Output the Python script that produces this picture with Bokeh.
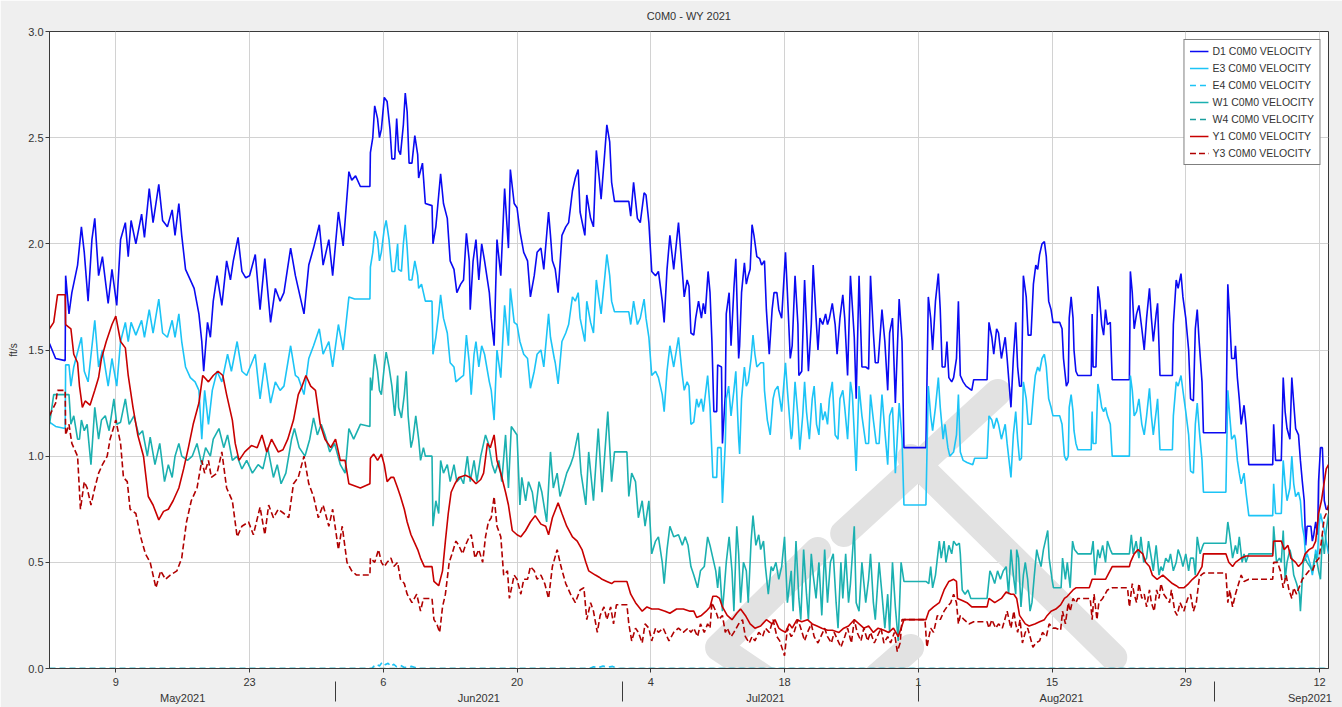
import numpy as np
import pandas as pd
from bokeh.plotting import figure
from bokeh.models import (FixedTicker, LinearAxis, CustomJSTickFormatter, Legend, LegendItem,
                          Range1d, PrintfTickFormatter, SingleIntervalTicker)
from bokeh.embed import file_html
from bokeh.resources import INLINE

# ---------------- data (day offset from 2021-05-01 00:00, velocity ft/s) ----------------
D1 = [(1.06,1.53),(1.7,1.46),(2.7,1.45),(2.75,1.85),(3.1,1.67),(3.4,1.77),(4.0,1.90),(4.4,2.08),(4.7,1.96),(5.1,1.73),(5.5,2.02),(5.8,2.12),(6.2,1.85),(6.6,1.94),(7.2,1.72),(7.6,1.88),(8.1,1.71),(8.5,2.02),(9.0,2.10),(9.3,1.94),(9.6,2.11),(10.1,2.00),(10.7,2.14),(11.0,2.03),(11.5,2.26),(11.9,2.10),(12.5,2.28),(12.9,2.11),(13.4,2.08),(13.9,2.16),(14.2,2.04),(14.6,2.19),(14.9,2.04),(15.3,1.88),(15.8,1.83),(16.2,1.79),(16.7,1.67),(17.0,1.54),(17.2,1.40),(17.6,1.63),(17.9,1.56),(18.2,1.73),(18.6,1.85),(19.1,1.71),(19.6,1.92),(20.0,1.83),(20.3,1.92),(20.8,2.03),(21.2,1.87),(21.6,1.84),(22.0,1.85),(22.6,1.95),(23.1,1.69),(23.6,1.93),(24.2,1.63),(24.7,1.79),(25.2,1.73),(25.6,1.77),(26.3,1.98),(26.8,1.85),(27.1,1.79),(27.7,1.67),(28.2,1.90),(28.7,1.98),(29.3,2.09),(29.7,1.90),(30.3,2.02),(30.7,1.85),(31.3,2.15),(31.8,1.99),(32.4,2.34),(32.7,2.30),(33.1,2.32),(33.6,2.27),(34.6,2.27),
      (34.65,2.43),(34.9,2.50),(35.1,2.65),(35.4,2.59),(35.6,2.50),(35.8,2.54),(36.1,2.69),(36.4,2.67),(36.7,2.54),(36.9,2.40),(37.2,2.40),(37.4,2.59),(37.6,2.44),(37.8,2.42),(38.1,2.56),(38.3,2.71),(38.5,2.62),(38.7,2.38),(39.0,2.38),(39.3,2.51),(39.6,2.42),(39.7,2.31),(40.1,2.38),(40.4,2.19),(41.1,2.18),(41.2,2.00),(41.5,2.08),(41.8,2.23),(42.0,2.33),(42.3,2.19),(42.7,2.12),(43.0,1.92),(43.4,1.88),(43.7,1.77),(44.1,1.81),(44.4,1.83),(44.7,2.05),(45.0,1.92),(45.1,1.69),(45.4,1.92),(45.7,2.02),(46.0,1.83),(46.3,2.00),(46.6,1.92),(47.1,1.77),(47.3,1.65),(47.6,1.52),(47.9,2.02),(48.3,1.85),(48.7,2.26),(49.1,1.98),(49.3,2.35),(49.7,2.19),(50.0,2.17),(50.3,2.06),(50.7,1.96),(51.1,1.92),(51.4,1.75),(51.8,1.85),(52.1,1.96),(52.5,1.98),(52.8,1.88),(53.3,2.15),(53.5,2.04),(53.7,1.92),(54.0,1.88),(54.3,1.77),(54.7,2.04),(55.1,2.08),(55.4,2.10),(55.8,2.25),(56.1,2.31),(56.4,2.35),(56.6,2.15),(57.1,2.04),(57.3,2.23),(57.7,2.12),(58.0,2.08),(58.3,2.44),(58.6,2.31),(58.8,2.21),(59.2,2.44),(59.4,2.56),(59.7,2.48),(59.9,2.29),(60.2,2.20),(61.7,2.20),(61.9,2.13),(62.2,2.29),(62.6,2.12),(62.9,2.10),(63.3,2.24),(63.5,2.23),(63.8,2.10),(64.1,1.87),(64.5,1.85),(64.8,1.87),(65.2,1.73),(65.4,1.63),(65.7,1.88),(66.0,2.04),(66.4,1.88),(66.9,2.10),(67.3,1.87),(67.5,1.75),(67.8,1.83),(68.0,1.80),
      (68.2,1.58),(68.5,1.57),(68.7,1.65),(69.0,1.73),(69.3,1.65),(69.5,1.72),(69.7,1.67),(70.0,1.87),(70.2,1.77),(70.4,1.54),(70.6,1.21),(70.9,1.21),(71.0,1.43),(71.4,1.42),(71.5,1.06),(71.8,1.29),(71.9,1.67),(72.2,1.77),(72.4,1.52),(72.7,1.79),(72.9,1.93),(73.2,1.46),(73.3,1.52),(73.5,1.77),(73.8,1.91),(74.0,1.81),(74.2,1.85),(74.4,1.88),(74.6,2.09),(74.8,2.04),(75.1,1.94),(75.4,1.93),(75.6,1.90),(75.9,1.92),(76.1,1.69),(76.4,1.48),(76.7,1.69),(76.9,1.77),(77.2,1.77),(77.4,1.69),(77.7,1.65),(78.1,1.96),(78.3,1.77),(78.6,1.46),(78.8,1.52),(79.1,1.85),(79.4,1.62),(79.5,1.38),(79.8,1.40),(80.1,1.83),(80.3,1.62),(80.5,1.40),(80.8,1.62),(81.0,1.90),(81.3,1.65),(81.5,1.50),(81.7,1.65),(82.0,1.62),(82.3,1.67),(82.5,1.62),(82.7,1.65),(83.0,1.72),(83.3,1.62),(83.5,1.48),(83.8,1.65),(84.1,1.76),(84.3,1.65),(84.6,1.38),(84.9,1.85),(85.3,1.56),(85.5,1.27),(85.8,1.85),(86.1,1.42),(86.5,1.42),(86.8,1.41),(87.0,1.85),(87.3,1.58),(87.5,1.44),(87.8,1.44),(88.2,1.69),(88.5,1.54),(88.8,1.31),(89.0,1.58),(89.3,1.65),(89.6,1.25),(90.0,1.74),(90.3,1.54),(90.5,1.04),(92.8,1.04),(93.05,1.75),(93.3,1.65),(93.5,1.50),(93.8,1.73),(94.1,1.86),(94.3,1.69),(94.5,1.42),(94.8,1.42),(95.0,1.54),(95.2,1.37),(95.5,1.35),(95.7,1.37),(96.0,1.46),(96.2,1.73),(96.4,1.38),(96.7,1.35),(97.0,1.33),(97.6,1.31),(97.8,1.36),(99.2,1.36),(99.4,1.63),(99.7,1.56),(99.9,1.48),(100.2,1.60),(100.4,1.58),(100.7,1.46),(101.1,1.56),(101.3,1.46),(101.7,1.23),
      (101.95,1.46),(102.2,1.63),(102.4,1.42),(102.6,1.33),(102.8,1.33),(103.0,1.85),(103.3,1.75),(103.5,1.57),(103.8,1.57),(104.05,1.81),(104.3,1.90),(104.5,1.88),(104.7,1.95),(104.95,2.00),(105.2,2.01),(105.4,1.94),(105.65,1.73),(105.9,1.69),(106.1,1.63),(106.8,1.63),(107.05,1.60),(107.2,1.46),(107.5,1.33),(107.7,1.35),(107.8,1.65),(108.0,1.75),(108.2,1.65),(108.3,1.50),(108.5,1.40),(108.7,1.38),(110.1,1.38),(110.2,1.67),(110.3,1.42),(110.6,1.42),(110.8,1.80),(111.0,1.73),(111.2,1.62),(111.4,1.57),(111.6,1.69),(111.8,1.62),(112.1,1.63),(112.3,1.36),(114.1,1.36),(114.2,1.87),(114.4,1.77),(114.6,1.60),(114.85,1.67),(115.1,1.71),(115.4,1.60),(115.65,1.50),(115.9,1.65),(116.2,1.79),(116.4,1.65),(116.6,1.54),(116.9,1.67),(117.05,1.72),(117.3,1.38),(118.6,1.38),(118.7,1.62),(119.0,1.83),(119.2,1.79),(119.5,1.86),(119.7,1.75),(120.0,1.65),(120.3,1.50),(120.5,1.27),(120.8,1.26),(121.0,1.60),(121.2,1.69),(121.4,1.54),(121.7,1.35),(121.85,1.11),(124.2,1.11),(124.4,1.81),(124.6,1.65),(124.8,1.46),(125.1,1.46),(125.2,1.52),(125.4,1.37),(125.6,1.27),(125.8,1.15),(126.1,1.24),(126.3,1.15),(126.6,0.96),(129.1,0.96),(129.2,1.15),(129.4,0.98),(130.0,0.98),(130.2,1.37),(130.4,1.21),(130.6,1.13),(130.9,1.08),(131.1,1.37),(131.3,1.25),(131.5,1.13),(131.8,1.10),(132.0,0.98),(132.2,0.88),(132.4,0.79),(132.55,0.58),(132.7,0.67),(133.1,0.67),(133.25,0.60),(133.4,0.63),(133.6,0.69),(133.8,0.63),(133.9,0.88),(134.1,1.04),(134.3,1.04),(134.5,0.79),(134.7,0.75),(134.94,0.75)]

E3 = [(1.06,1.16),(1.7,1.14),(2.7,1.13),(2.75,1.43),(3.1,1.43),(3.3,1.33),(3.6,1.42),(4.4,1.56),(4.7,1.40),(5.1,1.35),(5.8,1.64),(6.2,1.42),(6.6,1.50),(7.2,1.33),(7.6,1.46),(8.1,1.33),(8.5,1.54),(9.0,1.63),(9.3,1.54),(9.6,1.63),(10.1,1.57),(10.7,1.64),(11.0,1.56),(11.5,1.69),(11.9,1.58),(12.5,1.74),(12.9,1.58),(13.4,1.56),(13.9,1.64),(14.2,1.56),(14.6,1.67),(14.9,1.54),(15.3,1.42),(15.8,1.37),(16.3,1.35),(16.7,1.31),(17.0,1.08),(17.3,1.31),(17.7,1.15),(18.1,1.31),(18.6,1.40),(19.1,1.35),(19.7,1.48),(20.1,1.40),(20.7,1.54),(21.2,1.40),(21.7,1.38),(22.6,1.48),(23.1,1.27),(23.6,1.44),(24.2,1.25),(24.7,1.35),(25.2,1.31),(25.6,1.33),(26.3,1.52),(26.8,1.38),(27.1,1.37),(27.7,1.29),(28.2,1.46),(28.7,1.52),(29.3,1.60),(29.7,1.48),(30.3,1.54),(30.7,1.42),(31.3,1.62),(31.8,1.50),(32.4,1.75),(33.0,1.74),(34.6,1.74),
      (34.65,1.89),(34.9,1.96),(35.1,2.06),(35.4,2.02),(35.6,1.92),(35.8,1.96),(36.1,2.07),(36.3,2.11),(36.6,2.02),(36.9,1.87),(37.2,1.87),(37.5,2.00),(37.6,1.88),(37.9,1.87),(38.1,2.00),(38.3,2.09),(38.5,1.98),(38.7,1.83),(39.0,1.83),(39.3,1.92),(39.6,1.85),(39.7,1.79),(40.0,1.81),(40.4,1.73),(41.1,1.73),(41.2,1.48),(41.5,1.56),(41.8,1.67),(42.0,1.76),(42.3,1.65),(42.7,1.58),(43.0,1.44),(43.4,1.42),(43.6,1.35),(44.1,1.37),(44.4,1.38),(44.7,1.57),(45.0,1.44),(45.2,1.29),(45.5,1.48),(45.7,1.54),(46.0,1.42),(46.3,1.52),(46.6,1.48),(47.1,1.35),(47.3,1.31),(47.6,1.17),(47.9,1.50),(48.3,1.37),(48.7,1.71),(49.1,1.52),(49.3,1.79),(49.7,1.63),(50.0,1.62),(50.3,1.54),(50.7,1.48),(51.1,1.46),(51.4,1.32),(51.8,1.40),(52.1,1.48),(52.5,1.50),(52.8,1.42),(53.3,1.67),(53.5,1.56),(53.9,1.46),(54.0,1.44),(54.3,1.34),(54.7,1.54),(55.1,1.58),(55.4,1.62),(55.8,1.75),(56.1,1.73),(56.4,1.77),(56.6,1.65),(57.1,1.54),(57.3,1.73),(57.7,1.63),(58.0,1.58),(58.3,1.83),(58.6,1.73),(58.8,1.67),(59.2,1.85),(59.4,1.95),(59.7,1.85),(59.9,1.73),(60.2,1.68),(61.7,1.68),(61.9,1.62),(62.2,1.73),(62.6,1.62),(62.9,1.65),(63.3,1.74),(63.5,1.65),(63.8,1.56),(64.1,1.38),(64.5,1.40),(64.8,1.37),(65.2,1.29),(65.4,1.21),(65.7,1.40),(66.0,1.52),(66.4,1.42),(66.9,1.56),(67.3,1.38),(67.5,1.31),(67.8,1.35),(68.0,1.33),
      (68.2,1.15),(68.5,1.16),(68.8,1.27),(69.0,1.23),(69.3,1.27),(69.5,1.21),(69.95,1.38),(70.2,1.23),(70.5,0.90),(70.9,0.90),(71.0,1.04),(71.35,1.04),(71.5,0.78),(71.8,1.06),(71.9,1.27),(72.15,1.33),(72.4,1.19),(72.7,1.31),(72.9,1.40),(73.2,1.08),(73.3,1.01),(73.5,1.27),(73.8,1.42),(74.0,1.33),(74.2,1.35),(74.5,1.46),(74.7,1.57),(74.9,1.48),(75.1,1.42),(75.5,1.44),(75.8,1.44),(75.9,1.31),(76.2,1.17),(76.5,1.10),(76.8,1.27),(77.0,1.31),(77.3,1.33),(77.7,1.21),(78.1,1.44),(78.3,1.31),(78.7,1.08),(78.8,1.10),(79.1,1.35),(79.4,1.19),(79.6,1.03),(79.9,1.19),(80.1,1.35),(80.3,1.21),(80.6,1.08),(80.9,1.27),(81.1,1.33),(81.35,1.15),(81.6,1.10),(81.8,1.25),(82.0,1.17),(82.25,1.21),(82.5,1.15),(82.7,1.27),(83.0,1.35),(83.3,1.10),(83.6,1.08),(83.8,1.27),(84.1,1.31),(84.3,1.23),(84.6,1.08),(84.9,1.35),(85.1,1.29),(85.5,0.93),(85.8,1.33),(86.1,1.19),(86.5,1.06),(86.8,1.06),(87.0,1.29),(87.3,1.17),(87.6,1.06),(87.9,1.06),(88.2,1.29),(88.5,1.12),(88.8,0.96),(89.0,1.19),(89.3,1.23),(89.6,0.92),(90.0,1.25),(90.3,1.08),(90.5,0.77),(92.8,0.77),(93.05,1.33),(93.3,1.19),(93.5,1.12),(93.8,1.23),(94.1,1.37),(94.3,1.23),(94.6,1.08),(94.8,1.15),(95.1,1.04),(95.3,1.00),(95.7,1.02),(96.0,1.10),(96.2,1.29),(96.4,1.02),(96.7,0.98),(97.1,0.97),(97.7,0.96),(97.9,0.99),(99.2,0.99),(99.4,1.19),(99.7,1.17),(99.9,1.13),(100.2,1.18),(100.4,1.15),(100.7,1.08),(101.1,1.15),(101.3,1.06),(101.7,0.90),
      (101.95,1.10),(102.2,1.21),(102.4,1.08),(102.6,0.98),(102.8,0.99),(103.0,1.35),(103.3,1.27),(103.5,1.15),(103.8,1.15),(104.05,1.29),(104.25,1.38),(104.5,1.42),(104.7,1.40),(104.95,1.46),(105.2,1.48),(105.4,1.42),(105.65,1.27),(105.9,1.23),(106.1,1.19),(106.8,1.19),(107.05,1.15),(107.3,1.00),(107.5,0.98),(107.7,1.00),(107.8,1.23),(108.0,1.29),(108.2,1.21),(108.3,1.12),(108.5,1.06),(108.7,1.03),(110.1,1.03),(110.2,1.21),(110.3,1.06),(110.6,1.06),(110.8,1.34),(111.0,1.29),(111.2,1.23),(111.4,1.21),(111.6,1.23),(111.8,1.19),(112.1,1.15),(112.3,1.00),(114.1,1.00),(114.2,1.38),(114.4,1.31),(114.6,1.19),(114.85,1.21),(115.1,1.27),(115.4,1.15),(115.65,1.10),(115.9,1.19),(116.2,1.32),(116.4,1.19),(116.6,1.10),(116.9,1.21),(117.05,1.27),(117.3,1.03),(118.6,1.03),(118.7,1.19),(119.0,1.35),(119.2,1.33),(119.5,1.38),(119.7,1.31),(120.0,1.21),(120.3,1.10),(120.5,0.93),(120.8,0.92),(121.0,1.15),(121.2,1.25),(121.4,1.13),(121.7,0.98),(121.85,0.83),(124.2,0.83),(124.4,1.31),(124.6,1.19),(124.8,1.08),(125.1,1.10),(125.2,1.08),(125.4,0.98),(125.6,0.92),(125.8,0.87),(126.1,0.92),(126.3,0.83),(126.6,0.72),(129.1,0.72),(129.2,0.87),(129.4,0.73),(130.0,0.73),(130.2,0.98),(130.4,0.87),(130.6,0.79),(130.9,0.85),(131.1,1.00),(131.3,0.87),(131.5,0.81),(131.8,0.83),(132.0,0.79),(132.2,0.67),(132.4,0.62),(132.55,0.52),(132.7,0.54),(133.1,0.48),(133.25,0.44),(133.4,0.48),(133.6,0.56),(133.8,0.52),(133.9,0.65),(134.1,0.73),(134.3,0.69),(134.5,0.65),(134.7,0.60),(134.94,0.54)]

E4 = [(1.06,0.0),(34.8,0.0),(35.0,0.01),(35.3,0.02),(35.6,0.012),(35.9,0.03),(36.2,0.018),(36.5,0.025),(36.8,0.01),(37.1,0.02),(37.4,0.008),(37.8,0.015),(38.2,0.005),(39.0,0.01),(39.6,0.0),(57.6,0.0),(58.0,0.008),(58.5,0.004),(59.0,0.012),(59.5,0.006),(60.0,0.01),(60.5,0.0),(134.94,0.0)]

W1 = [(1.06,1.15),(1.5,1.29),(3.1,1.29),(3.3,1.15),(3.6,1.19),(4.0,1.08),(4.2,1.08),(4.4,1.17),(4.7,1.12),(5.0,1.15),(5.4,0.96),(5.8,1.23),(6.2,1.08),(6.5,1.17),(6.9,1.19),(7.3,1.12),(7.8,1.27),(8.1,1.15),(8.5,1.16),(9.0,1.27),(9.4,1.15),(9.9,1.19),(10.4,1.10),(10.8,1.12),(11.3,1.00),(11.6,1.09),(12.1,0.96),(12.6,1.06),(13.1,0.88),(13.5,0.96),(13.9,0.90),(14.2,1.00),(14.6,1.06),(14.9,1.00),(15.5,0.98),(16.0,1.00),(16.5,1.06),(17.0,0.96),(17.4,1.04),(17.9,1.00),(18.2,1.08),(18.8,1.13),(19.3,1.04),(19.7,1.10),(20.2,0.98),(20.7,1.00),(21.2,0.94),(21.7,0.98),(22.3,0.92),(22.9,0.96),(23.4,0.94),(23.9,1.04),(24.5,0.90),(24.9,0.96),(25.3,0.87),(25.8,0.92),(26.4,1.08),(26.7,1.13),(27.2,1.04),(27.8,1.00),(28.3,1.08),(28.7,1.18),(29.1,1.10),(29.5,1.15),(29.9,1.10),(30.4,1.02),(30.9,1.06),(31.5,0.96),(32.0,0.92),(32.4,1.13),(32.9,1.08),(33.6,1.15),(34.6,1.14),
      (34.65,1.37),(34.8,1.31),(35.1,1.48),(35.4,1.40),(35.6,1.31),(35.8,1.29),(36.1,1.42),(36.3,1.49),(36.6,1.42),(36.9,1.33),(37.2,1.19),(37.5,1.38),(37.6,1.23),(37.9,1.18),(38.2,1.29),(38.4,1.40),(38.6,1.19),(38.9,1.04),(39.1,1.08),(39.4,1.19),(39.7,1.08),(39.9,0.98),(40.2,1.04),(40.4,1.00),(41.1,1.00),(41.2,0.67),(41.5,0.79),(41.8,0.73),(42.0,0.98),(42.3,0.92),(42.7,0.96),(43.0,0.88),(43.4,0.96),(43.7,0.88),(44.1,0.90),(44.4,0.87),(44.8,1.00),(45.1,0.88),(45.5,0.98),(45.8,0.88),(46.2,1.00),(46.7,1.10),(47.0,1.06),(47.4,0.96),(47.7,0.92),(48.1,0.98),(48.4,0.88),(48.8,1.10),(49.1,0.85),(49.4,1.14),(50.0,1.10),(50.3,0.77),(50.5,0.90),(50.9,0.79),(51.2,0.88),(51.6,0.83),(51.9,0.73),(52.3,0.88),(52.6,0.83),(53.1,0.69),(53.5,1.02),(53.8,0.85),(54.2,0.92),(54.5,0.81),(54.9,0.87),(55.2,0.92),(55.6,0.96),(55.9,1.00),(56.4,1.11),(56.7,0.92),(57.2,0.77),(57.5,1.02),(58.0,0.79),(58.5,1.13),(58.9,0.83),(59.5,1.21),(59.9,0.88),(60.2,1.02),(61.5,1.02),(61.7,0.81),(62.0,0.92),(62.4,0.88),(62.7,0.71),(63.1,0.79),(63.4,0.67),(63.8,0.79),(64.1,0.54),(64.5,0.60),(64.8,0.62),(65.2,0.50),(65.4,0.40),(65.7,0.56),(66.0,0.67),(66.4,0.62),(66.9,0.63),(67.3,0.58),(67.6,0.62),(67.9,0.58),
      (68.2,0.48),(68.5,0.44),(68.9,0.38),(69.2,0.46),(69.6,0.48),(69.95,0.62),(70.2,0.58),(70.5,0.52),(70.8,0.46),(71.0,0.38),(71.2,0.48),(71.5,0.27),(71.7,0.38),(71.9,0.50),(72.2,0.62),(72.5,0.46),(72.7,0.27),(73.0,0.67),(73.2,0.54),(73.4,0.31),(73.7,0.50),(74.0,0.46),(74.2,0.31),(74.5,0.60),(74.7,0.72),(75.0,0.58),(75.3,0.63),(75.5,0.56),(75.8,0.60),(76.0,0.48),(76.3,0.35),(76.6,0.48),(76.8,0.46),(77.1,0.50),(77.4,0.42),(77.7,0.48),(78.0,0.62),(78.3,0.31),(78.7,0.46),(78.9,0.27),(79.2,0.60),(79.5,0.33),(79.7,0.23),(80.0,0.56),(80.3,0.35),(80.5,0.23),(80.8,0.54),(81.0,0.44),(81.3,0.33),(81.6,0.50),(81.9,0.25),(82.2,0.56),(82.5,0.31),(82.8,0.50),(83.1,0.54),(83.4,0.31),(83.6,0.19),(83.9,0.50),(84.1,0.33),(84.4,0.54),(84.7,0.31),(84.9,0.40),(85.3,0.67),(85.5,0.31),(85.8,0.27),(86.1,0.50),(86.5,0.31),(86.8,0.42),(87.0,0.54),(87.3,0.31),(87.5,0.23),(87.9,0.50),(88.2,0.35),(88.5,0.19),(88.8,0.35),(89.0,0.17),(89.3,0.50),(89.6,0.29),(89.9,0.13),(90.2,0.50),(90.5,0.41),(92.8,0.41),(93.1,0.40),(93.3,0.48),(93.5,0.38),(93.8,0.44),(94.2,0.60),(94.4,0.52),(94.7,0.60),(94.9,0.50),(95.2,0.58),(95.5,0.54),(95.7,0.60),(96.0,0.58),(96.3,0.59),(96.4,0.54),(96.6,0.37),(96.9,0.35),(97.2,0.37),(97.5,0.33),(99.2,0.33),(99.5,0.46),(99.7,0.44),(100.0,0.40),(100.3,0.46),(100.6,0.42),(100.9,0.46),(101.2,0.48),(101.45,0.35),(101.7,0.56),
      (101.95,0.44),(102.2,0.35),(102.3,0.56),(102.5,0.52),(102.75,0.29),(103.0,0.44),(103.2,0.50),(103.45,0.42),(103.7,0.27),(103.9,0.31),(104.15,0.44),(104.4,0.56),(104.6,0.52),(104.85,0.48),(105.1,0.56),(105.3,0.60),(105.55,0.65),(105.7,0.52),(106.0,0.42),(106.15,0.38),(106.95,0.38),(107.1,0.52),(107.4,0.42),(107.6,0.50),(107.9,0.38),(108.15,0.60),(108.35,0.56),(108.7,0.54),(110.1,0.54),(110.3,0.60),(110.5,0.44),(110.8,0.56),(111.0,0.52),(111.3,0.58),(111.6,0.50),(111.8,0.60),(112.1,0.56),(112.3,0.54),(114.1,0.54),(114.3,0.63),(114.5,0.54),(114.8,0.60),(115.1,0.52),(115.3,0.62),(115.6,0.50),(115.9,0.52),(116.1,0.60),(116.4,0.52),(116.6,0.46),(116.9,0.58),(117.2,0.44),(117.4,0.48),(117.6,0.46),(117.9,0.52),(118.2,0.50),(118.4,0.54),(118.7,0.46),(119.0,0.50),(119.2,0.56),(119.5,0.52),(119.7,0.48),(120.0,0.54),(120.3,0.46),(120.5,0.52),(120.8,0.52),(121.0,0.44),(121.2,0.62),(121.5,0.54),(121.8,0.58),(121.9,0.59),(124.2,0.59),(124.4,0.69),(124.6,0.63),(124.9,0.52),(125.2,0.58),(125.4,0.54),(125.6,0.62),(125.9,0.50),(126.1,0.54),(126.3,0.50),(126.6,0.54),(129.1,0.54),(129.2,0.67),(129.5,0.50),(129.8,0.52),(130.0,0.50),(130.2,0.65),(130.4,0.42),(130.6,0.50),(130.9,0.56),(131.1,0.52),(131.3,0.44),(131.6,0.40),(131.9,0.35),(132.0,0.27),(132.3,0.50),(132.5,0.52),(132.7,0.50),(133.0,0.48),(133.25,0.46),(133.4,0.50),(133.6,0.54),(133.9,0.46),(134.1,0.42),(134.3,0.63),(134.5,0.54),(134.7,0.65),(134.94,0.73)]

W4 = [(1.06,0.0),(45.0,0.0),(90.0,0.0),(134.94,0.0)]

Y1 = [(1.06,1.60),(1.5,1.63),(1.9,1.76),(2.7,1.76),(2.75,1.62),(3.3,1.60),(3.6,1.48),(4.0,1.44),(4.2,1.33),(4.5,1.23),(4.8,1.26),(5.3,1.24),(5.8,1.31),(6.2,1.37),(6.5,1.46),(7.0,1.54),(7.6,1.62),(8.0,1.66),(8.5,1.54),(9.0,1.51),(9.3,1.38),(9.8,1.23),(10.3,1.10),(10.9,1.00),(11.4,0.81),(11.9,0.77),(12.5,0.70),(13.0,0.74),(13.5,0.75),(14.0,0.79),(14.6,0.85),(15.1,0.94),(15.6,1.04),(16.1,1.15),(16.7,1.25),(17.1,1.38),(17.7,1.35),(18.2,1.38),(18.7,1.40),(19.2,1.38),(19.6,1.29),(20.2,1.17),(20.5,1.06),(20.9,0.98),(21.5,1.02),(22.2,1.05),(22.8,1.04),(23.3,1.10),(23.8,1.02),(24.3,1.08),(25.0,1.02),(25.5,1.03),(26.0,1.08),(26.6,1.17),(27.1,1.29),(27.5,1.33),(27.9,1.38),(28.4,1.33),(28.9,1.31),(29.4,1.15),(29.9,1.08),(30.5,1.04),(31.0,1.08),(31.5,0.98),(32.0,0.98),(32.4,0.87),(33.6,0.85),(34.6,0.87),
      (34.65,0.99),(35.0,1.01),(35.4,0.98),(35.8,1.01),(36.1,0.96),(36.4,0.88),(36.8,0.90),(37.1,0.90),(37.5,0.85),(37.8,0.81),(38.2,0.75),(38.5,0.69),(38.9,0.63),(39.2,0.60),(39.6,0.56),(39.9,0.52),(40.3,0.48),(41.1,0.48),(41.3,0.41),(41.8,0.39),(42.2,0.46),(42.5,0.60),(42.8,0.73),(43.1,0.83),(43.5,0.87),(43.9,0.90),(44.6,0.91),(45.1,0.90),(45.7,0.87),(46.2,0.89),(46.5,0.92),(46.9,1.06),(47.2,1.04),(47.6,1.10),(47.9,0.98),(48.3,0.92),(48.8,0.83),(49.1,0.77),(49.5,0.65),(50.0,0.63),(50.4,0.62),(50.9,0.65),(51.4,0.69),(51.9,0.72),(52.5,0.68),(53.0,0.67),(53.3,0.63),(53.7,0.71),(54.3,0.78),(54.7,0.73),(55.2,0.67),(55.8,0.62),(56.3,0.60),(56.8,0.56),(57.2,0.50),(57.5,0.46),(58.2,0.44),(58.6,0.43),(58.9,0.42),(59.4,0.41),(59.9,0.40),(60.2,0.41),(61.5,0.41),(61.9,0.35),(62.4,0.31),(63.1,0.27),(63.6,0.29),(64.1,0.28),(64.8,0.28),(65.5,0.27),(66.0,0.26),(66.7,0.28),(67.4,0.28),(68.1,0.27),
      (68.5,0.27),(68.8,0.24),(69.3,0.25),(69.8,0.27),(70.2,0.29),(70.5,0.34),(70.9,0.34),(71.2,0.33),(71.5,0.29),(72.0,0.25),(72.5,0.23),(73.0,0.26),(73.4,0.28),(73.9,0.25),(74.4,0.21),(74.9,0.19),(75.5,0.20),(76.1,0.23),(76.7,0.21),(77.0,0.23),(77.4,0.19),(77.7,0.18),(78.1,0.17),(78.5,0.21),(78.8,0.19),(79.3,0.23),(79.8,0.22),(80.4,0.23),(80.9,0.21),(81.4,0.20),(81.9,0.19),(82.5,0.18),(83.0,0.18),(83.7,0.17),(84.2,0.19),(84.7,0.20),(85.3,0.23),(85.8,0.21),(86.3,0.19),(86.8,0.20),(87.3,0.17),(87.8,0.19),(88.4,0.18),(88.9,0.17),(89.4,0.19),(89.9,0.15),(90.5,0.23),(92.8,0.23),(93.1,0.27),(93.6,0.29),(94.2,0.31),(94.7,0.37),(95.2,0.41),(95.7,0.42),(96.0,0.41),(96.1,0.33),(96.6,0.32),(97.1,0.31),(97.6,0.29),(98.1,0.29),(99.2,0.29),(99.4,0.33),(100.0,0.31),(100.7,0.33),(101.2,0.36),(101.7,0.35),
      (102.0,0.35),(102.3,0.33),(102.6,0.25),(102.9,0.23),(103.2,0.21),(103.6,0.20),(104.2,0.21),(104.7,0.22),(105.2,0.23),(105.5,0.25),(105.9,0.27),(106.4,0.28),(106.9,0.30),(107.3,0.33),(107.6,0.34),(108.2,0.37),(108.5,0.38),(109.9,0.38),(110.2,0.42),(111.6,0.42),(112.3,0.48),(114.1,0.48),(114.2,0.50),(114.6,0.54),(115.0,0.56),(115.5,0.54),(115.8,0.50),(116.2,0.48),(116.5,0.44),(117.0,0.42),(117.6,0.44),(118.1,0.42),(118.6,0.40),(119.0,0.39),(119.3,0.38),(119.8,0.38),(120.3,0.40),(120.7,0.42),(121.2,0.44),(121.7,0.48),(121.85,0.54),(124.2,0.54),(124.5,0.50),(124.9,0.48),(125.2,0.50),(125.8,0.52),(126.3,0.53),(129.1,0.53),(129.2,0.60),(130.0,0.60),(130.3,0.56),(130.7,0.58),(131.0,0.52),(131.5,0.50),(131.8,0.48),(132.2,0.50),(132.5,0.54),(132.9,0.56),(133.3,0.57),(133.6,0.60),(133.9,0.73),(134.2,0.79),(134.5,0.88),(134.7,0.94),(134.94,0.96)]

Y3 = [(1.06,1.19),(1.7,1.25),(1.9,1.31),(2.7,1.31),(2.75,1.10),(3.1,1.15),(3.4,1.06),(4.0,1.00),(4.3,0.75),(4.7,0.88),(5.0,0.85),(5.4,0.77),(5.8,0.85),(6.2,0.92),(6.6,0.96),(7.1,1.00),(7.4,1.08),(8.0,1.17),(8.5,1.06),(8.8,0.90),(9.2,0.88),(9.5,0.75),(10.1,0.73),(10.6,0.62),(11.1,0.54),(11.6,0.50),(12.2,0.38),(12.7,0.46),(13.2,0.42),(13.7,0.44),(14.4,0.46),(14.9,0.52),(15.4,0.69),(15.9,0.79),(16.5,0.85),(17.0,0.98),(17.3,0.92),(17.7,0.98),(18.0,0.90),(18.6,0.92),(19.1,1.02),(19.6,0.85),(20.2,0.79),(20.7,0.62),(21.2,0.67),(21.9,0.69),(22.4,0.63),(23.1,0.76),(23.6,0.63),(24.0,0.77),(24.5,0.71),(25.0,0.75),(25.6,0.73),(26.1,0.71),(26.6,0.87),(27.1,0.90),(27.7,1.00),(28.2,0.87),(28.7,0.81),(29.2,0.71),(29.7,0.77),(30.3,0.67),(30.7,0.75),(31.3,0.56),(31.7,0.67),(32.2,0.50),(32.7,0.46),(33.2,0.44),(34.6,0.44),
      (34.65,0.52),(35.1,0.50),(35.5,0.56),(35.8,0.50),(36.1,0.48),(36.4,0.50),(36.8,0.52),(37.1,0.48),(37.5,0.50),(37.8,0.42),(38.2,0.40),(38.5,0.35),(39.0,0.31),(39.5,0.35),(39.9,0.27),(40.2,0.33),(41.1,0.33),(41.3,0.23),(41.6,0.21),(41.9,0.17),(42.2,0.29),(42.5,0.35),(42.9,0.50),(43.2,0.54),(43.6,0.60),(43.9,0.58),(44.3,0.54),(44.6,0.58),(45.0,0.62),(45.2,0.63),(45.6,0.52),(46.0,0.56),(46.4,0.50),(46.7,0.62),(47.0,0.69),(47.3,0.71),(47.6,0.81),(47.9,0.67),(48.3,0.62),(48.6,0.44),(49.0,0.46),(49.2,0.33),(49.7,0.44),(50.0,0.42),(50.4,0.35),(50.7,0.42),(51.1,0.42),(51.4,0.48),(51.8,0.46),(52.1,0.42),(52.5,0.44),(52.9,0.40),(53.3,0.33),(53.7,0.48),(54.2,0.56),(54.6,0.48),(55.1,0.40),(55.6,0.35),(56.1,0.31),(56.6,0.37),(57.0,0.38),(57.3,0.23),(57.7,0.31),(58.0,0.27),(58.4,0.17),(58.7,0.25),(59.1,0.29),(59.4,0.23),(59.8,0.29),(60.1,0.21),(60.4,0.30),(61.5,0.30),(61.7,0.21),(62.0,0.13),(62.4,0.19),(62.7,0.17),(63.1,0.12),(63.4,0.21),(63.8,0.19),(64.1,0.13),(64.5,0.19),(64.8,0.17),(65.3,0.19),(65.9,0.13),(66.4,0.17),(66.9,0.19),(67.4,0.17),(67.9,0.19),
      (68.2,0.17),(68.5,0.19),(68.9,0.15),(69.2,0.21),(69.6,0.17),(69.95,0.21),(70.2,0.19),(70.4,0.31),(70.8,0.27),(71.1,0.23),(71.5,0.25),(71.8,0.17),(72.0,0.19),(72.4,0.15),(72.7,0.17),(73.2,0.21),(73.6,0.23),(73.9,0.15),(74.3,0.12),(74.6,0.15),(74.9,0.13),(75.3,0.17),(75.7,0.15),(76.0,0.19),(76.4,0.17),(76.8,0.23),(77.2,0.15),(77.5,0.13),(78.0,0.06),(78.3,0.19),(78.7,0.15),(79.0,0.17),(79.4,0.23),(79.7,0.19),(80.1,0.13),(80.4,0.17),(80.8,0.21),(81.1,0.15),(81.5,0.12),(81.8,0.15),(82.2,0.19),(82.5,0.15),(82.9,0.12),(83.2,0.17),(83.6,0.13),(83.9,0.10),(84.3,0.15),(84.6,0.19),(85.0,0.12),(85.3,0.23),(85.6,0.17),(86.0,0.13),(86.3,0.19),(86.7,0.13),(87.0,0.17),(87.4,0.12),(87.7,0.15),(88.1,0.19),(88.4,0.12),(88.8,0.15),(89.1,0.12),(89.5,0.17),(89.8,0.08),(90.1,0.12),(90.3,0.23),(92.7,0.23),(92.9,0.10),(93.3,0.19),(93.6,0.17),(94.0,0.25),(94.3,0.23),(94.7,0.27),(95.0,0.29),(95.4,0.31),(95.7,0.35),(96.0,0.31),(96.2,0.21),(96.4,0.25),(96.8,0.23),(97.3,0.21),(97.8,0.22),(99.2,0.22),(99.4,0.19),(99.7,0.23),(100.1,0.19),(100.4,0.21),(100.8,0.19),(101.3,0.27),(101.7,0.19),
      (102.0,0.27),(102.2,0.21),(102.4,0.17),(102.65,0.23),(102.9,0.12),(103.2,0.17),(103.45,0.19),(103.7,0.15),(104.0,0.10),(104.3,0.12),(104.7,0.13),(105.0,0.17),(105.4,0.15),(105.7,0.21),(106.1,0.19),(106.4,0.19),(106.9,0.18),(107.1,0.27),(107.4,0.21),(107.7,0.31),(107.9,0.27),(108.2,0.33),(108.5,0.31),(108.7,0.33),(110.0,0.33),(110.2,0.23),(110.4,0.35),(110.7,0.23),(110.9,0.31),(111.3,0.33),(111.8,0.37),(112.3,0.38),(113.9,0.38),(114.1,0.29),(114.4,0.40),(114.6,0.35),(114.85,0.31),(115.1,0.40),(115.4,0.33),(115.65,0.35),(115.9,0.29),(116.2,0.37),(116.4,0.31),(116.7,0.27),(116.95,0.37),(117.2,0.33),(117.4,0.40),(117.7,0.35),(118.0,0.33),(118.3,0.31),(118.5,0.37),(118.85,0.27),(119.1,0.25),(119.4,0.31),(119.6,0.29),(119.8,0.27),(120.2,0.33),(120.5,0.35),(120.8,0.27),(121.1,0.31),(121.4,0.42),(121.6,0.44),(121.9,0.45),(124.2,0.45),(124.4,0.31),(124.6,0.37),(124.9,0.29),(125.2,0.35),(125.4,0.38),(125.8,0.44),(126.1,0.41),(126.6,0.42),(129.1,0.42),(129.2,0.50),(129.6,0.50),(129.9,0.46),(130.2,0.38),(130.5,0.44),(130.8,0.37),(131.1,0.33),(131.3,0.38),(131.6,0.35),(131.85,0.38),(132.2,0.42),(132.55,0.44),(132.9,0.46),(133.25,0.46),(133.6,0.50),(133.95,0.52),(134.2,0.60),(134.5,0.71),(134.7,0.73),(134.94,0.77)]

SERIES_NAMES = ["D1 C0M0 VELOCITY", "E3 C0M0 VELOCITY", "E4 C0M0 VELOCITY", "W1 C0M0 VELOCITY",
                "W4 C0M0 VELOCITY", "Y1 C0M0 VELOCITY", "Y3 C0M0 VELOCITY"]

DAY_TICKS = ["2021-05-09", "2021-05-23", "2021-06-06", "2021-06-20", "2021-07-04",
             "2021-07-18", "2021-08-01", "2021-08-15", "2021-08-29", "2021-09-12"]
DAY_LABELS = ["9", "23", "6", "20", "4", "18", "1", "15", "29", "12"]
MONTH_STARTS = ["2021-06-01", "2021-07-01", "2021-08-01", "2021-09-01"]
MONTH_LABEL_AT = ["2021-05-16", "2021-06-16", "2021-07-16", "2021-08-16", "2021-09-11"]
MONTH_LABELS = ["May2021", "Jun2021", "Jul2021", "Aug2021", "Sep2021"]

X_START, X_END = 1.06, 134.94
Y_START, Y_END = 0.0, 3.0

# decorative grey watermark strokes (day offset, value) seen behind the traces
WATERMARK = [
    [(84.19, 0.636), (100.31, 1.300)],
    [(91.20, 0.994), (112.46, 0.052)],
    [(81.47, 0.556), (71.10, 0.099), (83.88, -0.29)],
    [(81.26, -0.29), (91.20, 0.099)],
]

# ---------------- helpers ----------------
T0 = pd.Timestamp("2021-05-01")
FONT = "Liberation Sans"
TXT = "#333333"
AXC = "#3A3A3A"


def when(days):
    return T0 + pd.to_timedelta(np.asarray(days, dtype=float), unit="D")


def ms(dates):
    return [float(pd.Timestamp(d).value // 10**6) for d in dates]


def split(pairs):
    return when([a for a, _ in pairs]), [b for _, b in pairs]


# ---------------- figure ----------------
p = figure(width=1342, height=707, x_axis_type="datetime",
           x_range=Range1d(when([X_START])[0], when([X_END])[0]),
           y_range=Range1d(Y_START, Y_END),
           output_backend="svg", toolbar_location=None,
           min_border_left=49, min_border_right=14, min_border_top=31, min_border_bottom=39,
           background_fill_color="white", border_fill_color="#EFEFEF",
           title="C0M0 - WY 2021")

p.title.align = "center"
p.title.vertical_align = "top"
p.title.text_font = FONT
p.title.text_font_size = "11px"
p.title.text_font_style = "normal"
p.title.text_color = TXT
p.title.standoff = 15

p.outline_line_color = AXC
p.outline_line_width = 1

# y axis
yax = p.yaxis[0]
yax.ticker = SingleIntervalTicker(interval=0.5)
yax.formatter = PrintfTickFormatter(format="%.1f")
yax.axis_label = "ft/s"
yax.axis_label_text_font = FONT
yax.axis_label_text_font_size = "10px"
yax.axis_label_text_font_style = "normal"
yax.axis_label_text_color = TXT
yax.axis_label_standoff = 6
yax.major_label_text_font = FONT
yax.major_label_text_font_size = "11px"
yax.major_label_text_color = TXT
yax.major_label_standoff = 2
yax.major_tick_out = 4
yax.major_tick_in = 0
yax.minor_tick_line_color = None
yax.axis_line_color = AXC
yax.major_tick_line_color = AXC

# x axis: day numbers
day_ms = ms(DAY_TICKS)
xax = p.xaxis[0]
xax.ticker = FixedTicker(ticks=day_ms)
xax.formatter = CustomJSTickFormatter(args=dict(at=day_ms, labels=DAY_LABELS),
                                      code="const i = at.indexOf(tick); return i >= 0 ? labels[i] : '';")
xax.major_label_text_font = FONT
xax.major_label_text_font_size = "11px"
xax.major_label_text_color = TXT
xax.major_label_standoff = 5
xax.major_tick_out = 4
xax.major_tick_in = 0
xax.minor_tick_line_color = None
xax.axis_line_color = AXC
xax.major_tick_line_color = AXC

# x axis: month labels with separators at month starts
lab_ms = ms(MONTH_LABEL_AT)
month_axis = LinearAxis(
    ticker=FixedTicker(ticks=lab_ms, minor_ticks=ms(MONTH_STARTS)),
    formatter=CustomJSTickFormatter(args=dict(at=lab_ms, labels=MONTH_LABELS),
                                    code="const i = at.indexOf(tick); return i >= 0 ? labels[i] : '';"),
    axis_line_color=None, major_tick_line_color=None, major_tick_out=0, major_tick_in=0,
    major_label_standoff=-10, minor_tick_line_color=AXC, minor_tick_in=7, minor_tick_out=13,
    major_label_text_font=FONT, major_label_text_font_size="11px", major_label_text_color=TXT)
p.add_layout(month_axis, "below")

p.xgrid.ticker = FixedTicker(ticks=day_ms)
p.xgrid.grid_line_color = "#D2D2D2"
p.ygrid.grid_line_color = "#D2D2D2"

# watermark strokes
for stroke in WATERMARK:
    wx, wy = split(stroke)
    p.line(wx, wy, line_width=27, line_color="#E2E2E2", line_cap="round", line_join="round")

# traces
STYLE = [
    (D1, "#0A0AF2", "solid"),
    (E3, "#1CC4F6", "solid"),
    (E4, "#1CC4F6", "6 4"),
    (W1, "#1BB0B0", "solid"),
    (W4, "#1A9E9E", "6 4"),
    (Y1, "#C80000", "solid"),
    (Y3, "#B00000", "6 3"),
]
items = []
for name, (data, color, dash) in zip(SERIES_NAMES, STYLE):
    x, y = split(data)
    r = p.line(x, y, line_color=color, line_width=1.6, line_dash=dash)
    items.append(LegendItem(label=name, renderers=[r]))

legend = Legend(items=items, location="top_right", margin=8, padding=5, spacing=5,
                glyph_height=12, glyph_width=19, label_height=12, label_standoff=4,
                label_text_font=FONT, label_text_font_size="10.5px", label_text_color=TXT,
                border_line_color="black", border_line_width=1.5,
                background_fill_color="white", background_fill_alpha=1.0)
p.add_layout(legend)

open("out.html", "w").write(file_html(p, INLINE))
